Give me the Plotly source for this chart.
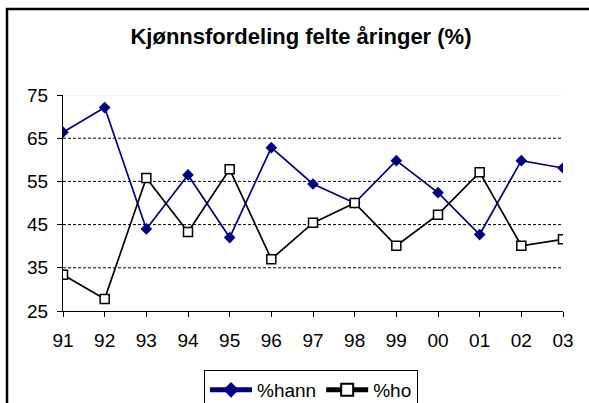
import plotly.graph_objects as go

years = ["91", "92", "93", "94", "95", "96", "97", "98", "99", "00", "01", "02", "03"]
hann = [66.4, 72.1, 44.0, 56.5, 42.0, 62.8, 54.4, 50.0, 59.8, 52.4, 42.7, 59.8, 58.1]
ho = [33.4, 27.8, 55.8, 43.3, 57.8, 37.0, 45.4, 50.0, 40.1, 47.3, 57.1, 40.1, 41.6]
y_ticks = [25, 35, 45, 55, 65, 75]
title_text = "Kjønnsfordeling felte åringer (%)"

W, H = 589, 403
L, R, T, B = 63, 26, 95, 92
pw, ph = W - L - R, H - T - B

def px_x(x):
    return (x - L) / pw

def px_y(y):
    return (H - B - y) / ph

font = "Liberation Sans, Arial, sans-serif"

fig = go.Figure()
fig.add_trace(go.Scatter(
    x=list(range(len(years))), y=hann, name="%hann", mode="lines+markers",
    line=dict(color="#000080", width=1.7),
    marker=dict(symbol="diamond", size=9, color="#000080", line=dict(width=0)),
))
fig.add_trace(go.Scatter(
    x=list(range(len(years))), y=ho, name="%ho", mode="lines+markers",
    line=dict(color="black", width=1.7),
    marker=dict(symbol="square", size=9, color="white", line=dict(color="black", width=1.5)),
))

border = dict(color="black", width=2.5)

fig.update_layout(
    width=W, height=H, margin=dict(l=L, r=R, t=T, b=B, autoexpand=False),
    paper_bgcolor="white", plot_bgcolor="white",
    font=dict(family=font, size=19, color="black"),
    title=dict(text="<b>" + title_text + "</b>", font=dict(size=22, family=font, color="black"),
               x=301 / W, xanchor="center", y=1 - 36 / H, yanchor="middle", xref="container", yref="container"),
    showlegend=True,
    legend=dict(orientation="h", x=px_x(204), y=px_y(370), xanchor="left", yanchor="top",
                bordercolor="black", borderwidth=1, bgcolor="white",
                font=dict(size=19, family=font, color="black"), itemsizing="constant",
                tracegroupgap=0, itemwidth=42),
    xaxis=dict(range=[0, len(years) - 1], tickmode="array", tickvals=list(range(len(years))),
               ticktext=years, showgrid=False, zeroline=False, showline=True, linecolor="black",
               linewidth=1, ticks="outside", ticklen=5, tickcolor="black", ticklabelstandoff=7,
               fixedrange=True),
    yaxis=dict(range=[25, 75], tickmode="array", tickvals=y_ticks, showgrid=False, zeroline=False,
               showline=True, linecolor="black", linewidth=1, ticks="outside", ticklen=5,
               tickcolor="black", ticklabelstandoff=5, fixedrange=True),
    shapes=[
        dict(type="line", xref="paper", yref="paper", x0=px_x(6), x1=px_x(592), y0=px_y(9), y1=px_y(9),
             line=border, layer="above"),
        dict(type="line", xref="paper", yref="paper", x0=px_x(7), x1=px_x(7), y0=px_y(8), y1=px_y(406),
             line=border, layer="above"),
    ] + [
        dict(type="line", xref="paper", yref="y", x0=0, x1=1, y0=v, y1=v,
             line=dict(color="black", width=1, dash="3px,2px"), layer="below")
        for v in y_ticks[1:-1]
    ] + [
        dict(type="line", xref="paper", yref="y", x0=0, x1=1, y0=75, y1=75,
             line=dict(color="#d0d0d0", width=1, dash="2px,2px"), layer="below")
    ],
)

fig.write_html(
    "out.html", config={"displayModeBar": False},
    post_script=(
        "document.head.insertAdjacentHTML('beforeend',"
        "'<style>html,body{margin:0;padding:0;overflow:hidden;}</style>');"
    ),
)
